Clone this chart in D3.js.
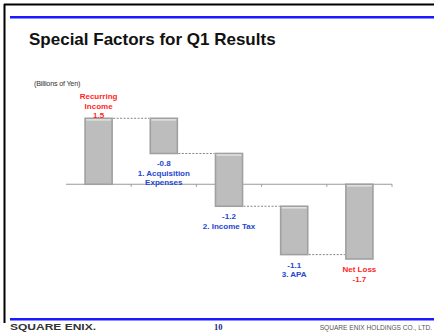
<!DOCTYPE html>
<html>
<head>
  <meta charset="utf-8">
  <title>Special Factors for Q1 Results</title>
  <script src="https://cdnjs.cloudflare.com/ajax/libs/d3/7.8.5/d3.min.js"></script>
  <style>
    body { margin: 0; background: #fff; }
    svg { display: block; font-family: "Liberation Sans", Arial, sans-serif; }
  </style>
</head>
<body>
  <svg width="434" height="332"></svg>

  <script>
    // data (billions of yen)
    const categories = ["Recurring Income", "1. Acquisition Expenses", "2. Income Tax", "3. APA", "Net Loss"];
    const labelLines = [["Recurring", "Income"], ["1. Acquisition", "Expenses"], ["2. Income Tax"], ["3. APA"], ["Net  Loss"]];
    const values = [1.5, -0.8, -1.2, -1.1, -1.7];
    const valueLabels = ["1.5", "-0.8", "-1.2", "-1.1", "-1.7"];
    const kinds = ["total", "step", "step", "step", "total"];

    const svg = d3.select("svg");
    const red = "#ff1f1f", blue = "#2346d2";

    // slide frame
    svg.append("line").attr("x1", 4).attr("x2", 434).attr("y1", 4.5).attr("y2", 4.5)
      .attr("stroke", "#000").attr("stroke-width", 2);
    svg.append("line").attr("x1", 4.5).attr("x2", 4.5).attr("y1", 4).attr("y2", 323)
      .attr("stroke", "#000").attr("stroke-width", 2);
    svg.append("rect").attr("x", 10).attr("y", 16).attr("width", 424).attr("height", 2.5).attr("fill", "#1a1aff");
    svg.append("rect").attr("x", 10).attr("y", 318).attr("width", 424).attr("height", 2.5).attr("fill", "#1a1aff");

    svg.append("text").attr("x", 29).attr("y", 45)
      .attr("font-size", 17).attr("font-weight", "bold").attr("fill", "#111")
      .text("Special Factors for Q1 Results");

    svg.append("text").attr("x", 34).attr("y", 86)
      .attr("font-size", 7.2).attr("fill", "#333").attr("letter-spacing", -0.2)
      .text("(Billions of Yen)");

    // footer
    svg.append("text").attr("x", 10).attr("y", 329.5)
      .attr("font-size", 9).attr("font-weight", 900).attr("fill", "#333")
      .attr("textLength", 86).attr("lengthAdjust", "spacingAndGlyphs")
      .text("SQUARE ENIX.");
    svg.append("text").attr("x", 214).attr("y", 329.5)
      .attr("font-size", 8.5).attr("font-weight", "bold").attr("fill", "#1a2a80")
      .attr("font-family", "Liberation Serif, serif")
      .text("10");
    svg.append("text").attr("x", 432).attr("y", 329.5).attr("text-anchor", "end")
      .attr("font-size", 6.6).attr("fill", "#555")
      .text("SQUARE ENIX HOLDINGS CO., LTD.");

    // waterfall extents
    let run = 0;
    const bars = values.map((v, i) => {
      let y0, y1;
      if (kinds[i] === "total") { y0 = 0; y1 = v; run = v; }
      else { y0 = run; y1 = run + v; run = y1; }
      return { i, v, y0, y1, lo: Math.min(y0, y1), hi: Math.max(y0, y1) };
    });

    const x = d3.scaleBand().domain(d3.range(categories.length))
      .range([66, 392]).paddingInner(0.585).paddingOuter(0.2925);
    const y = d3.scaleLinear().domain([-1.7, 1.5]).range([259, 118.3]);

    // axis line with boundary ticks
    svg.append("line").attr("x1", 66).attr("x2", 392).attr("y1", y(0)).attr("y2", y(0))
      .attr("stroke", "#9a9a9a").attr("stroke-width", 1);
    const step = x.step();
    svg.selectAll("line.tick").data(d3.range(1, categories.length + 1)).enter()
      .append("line").attr("class", "tick")
      .attr("x1", d => 66 + d * step).attr("x2", d => 66 + d * step)
      .attr("y1", y(0)).attr("y2", y(0) + 2.5)
      .attr("stroke", "#9a9a9a");

    // dashed connectors at the running total
    const conn = bars.slice(0, -1).map((b, k) => ({ from: b, to: bars[k + 1], level: b.y1 }));
    svg.selectAll("line.conn").data(conn).enter()
      .append("line").attr("class", "conn")
      .attr("x1", d => x(d.from.i) + x.bandwidth() + 1)
      .attr("x2", d => x(d.to.i) - 1)
      .attr("y1", d => y(d.level)).attr("y2", d => y(d.level))
      .attr("stroke", "#666").attr("stroke-width", 0.8).attr("stroke-dasharray", "2,1.5");

    // bars
    const g = svg.selectAll("g.bar").data(bars).enter().append("g").attr("class", "bar");
    g.append("rect")
      .attr("x", d => x(d.i)).attr("width", x.bandwidth())
      .attr("y", d => y(d.hi)).attr("height", d => y(d.lo) - y(d.hi))
      .attr("fill", "#bdbdbd").attr("stroke", "#a0a0a0").attr("stroke-width", 1.6);
    g.append("rect")
      .attr("x", d => x(d.i) + 1).attr("width", x.bandwidth() - 2)
      .attr("y", d => y(d.hi) + 0.8).attr("height", 1.5)
      .attr("fill", "#e2e2e2");

    // labels
    const lh = 9.5;
    bars.forEach((b, i) => {
      const cx = x(i) + x.bandwidth() / 2;
      const col = kinds[i] === "total" ? red : blue;
      const lines = kinds[i] === "total"
        ? labelLines[i].concat([valueLabels[i]])
        : [valueLabels[i]].concat(labelLines[i]);
      const yStart = b.v > 0
        ? y(b.hi) - 3 - (lines.length - 1) * lh
        : y(b.lo) + 10;
      svg.append("text")
        .attr("text-anchor", "middle").attr("font-size", 8).attr("font-weight", "bold")
        .attr("fill", col)
        .selectAll("tspan").data(lines).enter().append("tspan")
        .attr("x", cx).attr("y", (d, k) => yStart + k * lh + 3)
        .text(d => d);
    });
  </script>
</body>
</html>
